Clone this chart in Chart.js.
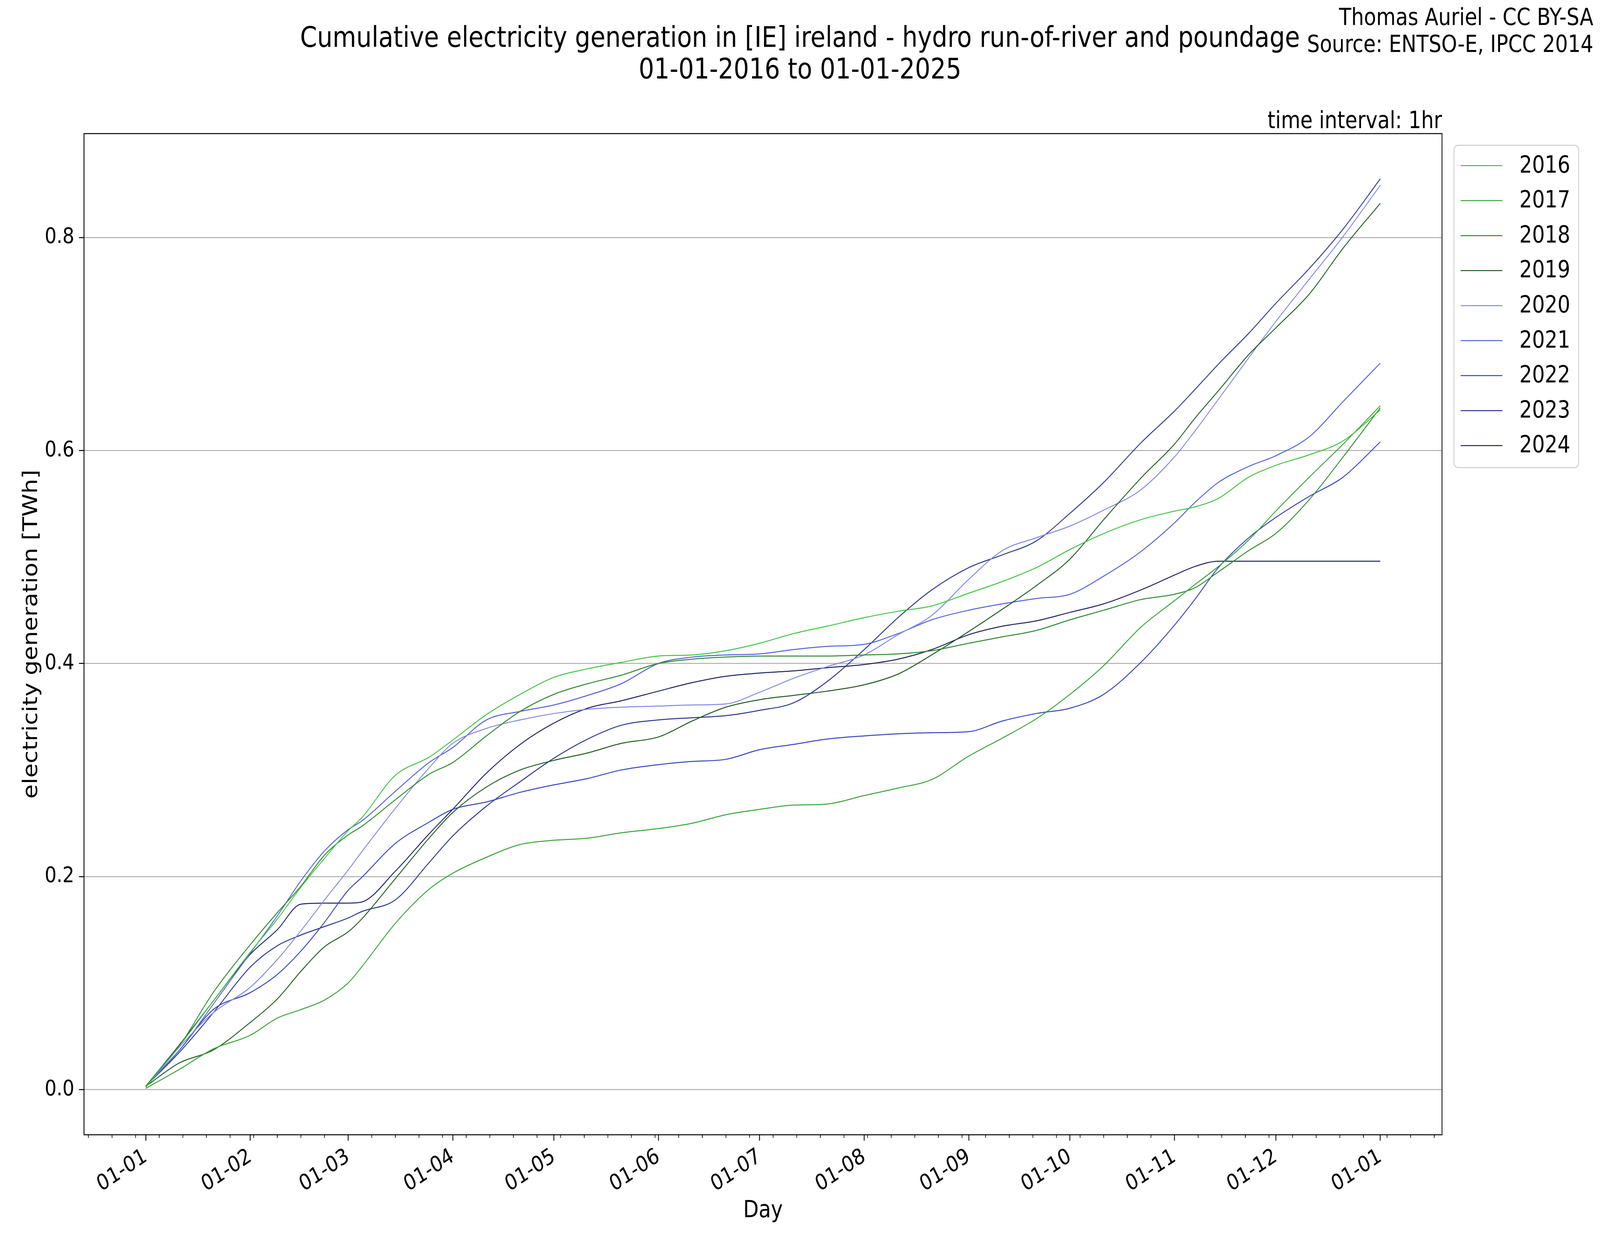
<!DOCTYPE html>
<html lang="en">
<head>
<meta charset="UTF-8">
<title>Cumulative electricity generation in [IE] ireland - hydro run-of-river and poundage</title>
<script src="https://cdn.jsdelivr.net/npm/chart.js@4.4.1/dist/chart.umd.min.js"></script>
<style>
  html, body { margin: 0; padding: 0; background: #fff; overflow: hidden; }
  canvas { display: block; }
</style>
</head>
<body>
<!-- drawing buffer keeps the 4800x3200 layout, the box fills the window -->
<canvas id="genChart" width="4800" height="3200" style="width:100vw;height:100vh"></canvas>
<script>
// day of year (leap year layout, 0 = 01-01)
const days = [0, 10, 20, 31, 39, 46, 53, 60, 64, 74, 84, 91, 101, 111, 121, 131, 141, 152, 162, 172,
  182, 192, 202, 213, 223, 233, 244, 254, 264, 274, 284, 295, 305, 311, 318, 327, 335, 345, 355, 366];

const years = ['2016', '2017', '2018', '2019', '2020', '2021', '2022', '2023', '2024'];

// cumulative generation, TWh
const gen2016 = [0.002, 0.041, 0.083, 0.129, 0.160, 0.190, 0.217, 0.243, 0.255, 0.295, 0.312, 0.328, 0.352, 0.371, 0.387, 0.395, 0.401, 0.407, 0.408, 0.412,
  0.419, 0.428, 0.435, 0.443, 0.449, 0.454, 0.466, 0.477, 0.490, 0.507, 0.522, 0.535, 0.543, 0.547, 0.555, 0.575, 0.586, 0.596, 0.609, 0.638];
const gen2017 = [0.001, 0.019, 0.038, 0.051, 0.067, 0.075, 0.084, 0.100, 0.115, 0.156, 0.188, 0.203, 0.218, 0.230, 0.234, 0.236, 0.241, 0.245, 0.250, 0.258,
  0.263, 0.267, 0.268, 0.276, 0.283, 0.291, 0.313, 0.330, 0.348, 0.371, 0.398, 0.434, 0.459, 0.474, 0.491, 0.516, 0.543, 0.575, 0.606, 0.642];
const gen2018 = [0.003, 0.041, 0.091, 0.136, 0.166, 0.191, 0.220, 0.239, 0.247, 0.272, 0.296, 0.307, 0.332, 0.355, 0.371, 0.381, 0.389, 0.400, 0.404, 0.406,
  0.407, 0.407, 0.407, 0.408, 0.409, 0.412, 0.419, 0.425, 0.431, 0.441, 0.450, 0.460, 0.465, 0.471, 0.486, 0.506, 0.522, 0.554, 0.594, 0.640];
const gen2019 = [0.003, 0.025, 0.037, 0.063, 0.085, 0.111, 0.134, 0.148, 0.160, 0.198, 0.236, 0.260, 0.284, 0.300, 0.309, 0.316, 0.325, 0.331, 0.346, 0.359,
  0.366, 0.370, 0.374, 0.380, 0.390, 0.408, 0.430, 0.451, 0.473, 0.498, 0.535, 0.574, 0.606, 0.630, 0.656, 0.690, 0.715, 0.747, 0.790, 0.832];
const gen2020 = [0.003, 0.040, 0.072, 0.096, 0.122, 0.149, 0.178, 0.206, 0.223, 0.264, 0.302, 0.325, 0.339, 0.347, 0.353, 0.357, 0.359, 0.360, 0.361, 0.362,
  0.373, 0.386, 0.397, 0.408, 0.427, 0.445, 0.479, 0.506, 0.518, 0.529, 0.544, 0.563, 0.594, 0.618, 0.648, 0.687, 0.721, 0.761, 0.801, 0.849];
const gen2021 = [0.003, 0.037, 0.080, 0.128, 0.163, 0.196, 0.224, 0.244, 0.252, 0.280, 0.307, 0.321, 0.347, 0.355, 0.361, 0.370, 0.381, 0.400, 0.406, 0.408,
  0.409, 0.413, 0.416, 0.418, 0.428, 0.441, 0.450, 0.456, 0.461, 0.465, 0.482, 0.505, 0.532, 0.551, 0.570, 0.585, 0.595, 0.613, 0.646, 0.682];
const gen2022 = [0.003, 0.037, 0.075, 0.091, 0.108, 0.130, 0.157, 0.187, 0.199, 0.231, 0.251, 0.263, 0.270, 0.279, 0.286, 0.292, 0.300, 0.305, 0.308, 0.310,
  0.319, 0.324, 0.329, 0.332, 0.334, 0.335, 0.336, 0.346, 0.353, 0.358, 0.371, 0.401, 0.436, 0.460, 0.490, 0.518, 0.537, 0.557, 0.575, 0.608];
const gen2023 = [0.003, 0.035, 0.072, 0.115, 0.135, 0.145, 0.153, 0.161, 0.167, 0.178, 0.213, 0.238, 0.266, 0.289, 0.311, 0.329, 0.342, 0.347, 0.349, 0.351,
  0.356, 0.363, 0.383, 0.413, 0.443, 0.469, 0.490, 0.502, 0.515, 0.541, 0.570, 0.607, 0.637, 0.657, 0.681, 0.710, 0.738, 0.771, 0.808, 0.855];
const gen2024 = [0.003, 0.042, 0.083, 0.127, 0.150, 0.174, 0.175, 0.175, 0.176, 0.205, 0.240, 0.263, 0.297, 0.324, 0.344, 0.358, 0.365, 0.374, 0.382, 0.388,
  0.391, 0.393, 0.396, 0.399, 0.404, 0.413, 0.427, 0.435, 0.440, 0.448, 0.456, 0.469, 0.483, 0.491, 0.496, 0.496, 0.496, 0.496, 0.496, 0.496];

const monthDays = [0, 31, 60, 91, 121, 152, 182, 213, 244, 274, 305, 335, 366];
const monthLabels = ['01-01', '01-02', '01-03', '01-04', '01-05', '01-06', '01-07', '01-08', '01-09', '01-10', '01-11', '01-12', '01-01'];
const yTicks = [0, 0.2, 0.4, 0.6, 0.8];

const series = [gen2016, gen2017, gen2018, gen2019, gen2020, gen2021, gen2022, gen2023, gen2024];
const colors = ['#3ec43e', '#35a535', '#2b8a2b', '#1f5b20', '#8088e0', '#5060d6', '#3443bf', '#2a3589', '#1c2161'];

// weekly minor ticks on the day axis
const minorDays = [];
for (let d = -17; d <= 384; d += 7) minorDays.push(d);

const FONT = '"DejaVu Sans", sans-serif';
Chart.defaults.font.family = FONT;

const decorations = {
  id: 'decorations',
  afterDraw(chart) {
    const { ctx, chartArea: a } = chart;
    const x = chart.scales.x;
    ctx.save();

    // axes frame
    ctx.strokeStyle = '#000';
    ctx.lineWidth = 2.5;
    ctx.strokeRect(a.left, a.top, a.right - a.left, a.bottom - a.top);

    // minor ticks
    ctx.lineWidth = 2;
    minorDays.forEach(d => {
      if (monthDays.includes(d)) return;
      const px = x.getPixelForValue(d);
      ctx.beginPath();
      ctx.moveTo(px, a.bottom);
      ctx.lineTo(px, a.bottom + 8);
      ctx.stroke();
    });

    ctx.fillStyle = '#000';
    ctx.textBaseline = 'alphabetic';

    // titles
    ctx.font = '73px ' + FONT;
    ctx.textAlign = 'center';
    ctx.fillText('Cumulative electricity generation in [IE] ireland - hydro run-of-river and poundage', 2400, 120);
    ctx.fillText('01-01-2016 to 01-01-2025', 2400, 201);

    ctx.font = '60px ' + FONT;
    ctx.textAlign = 'right';
    ctx.fillText('Thomas Auriel - CC BY-SA', 4780, 64);
    ctx.fillText('Source: ENTSO-E, IPCC 2014', 4780, 133);
    ctx.fillText('time interval: 1hr', a.right, 328);

    // axis titles
    ctx.textAlign = 'center';
    ctx.textBaseline = 'middle';
    ctx.fillText('Day', (a.left + a.right) / 2, 3100);
    ctx.save();
    ctx.translate(95, (a.top + a.bottom) / 2);
    ctx.rotate(-Math.PI / 2);
    ctx.fillText('electricity generation [TWh]', 0, 0);
    ctx.restore();

    // legend
    const lx = 4362, ly = 372, lw = 374, lh = 825, row = 89.6;
    ctx.beginPath();
    ctx.roundRect(lx, ly, lw, lh, 12);
    ctx.fillStyle = 'rgba(255,255,255,0.8)';
    ctx.fill();
    ctx.strokeStyle = '#d4d4d4';
    ctx.lineWidth = 3;
    ctx.stroke();
    ctx.textAlign = 'left';
    ctx.font = '60px ' + FONT;
    chart.data.datasets.forEach((ds, i) => {
      const yy = ly + 52 + i * row;
      ctx.strokeStyle = ds.borderColor;
      ctx.lineWidth = 2.5;
      ctx.beginPath();
      ctx.moveTo(lx + 20, yy);
      ctx.lineTo(lx + 145, yy);
      ctx.stroke();
      ctx.fillStyle = '#000';
      ctx.fillText(ds.label, lx + 196, yy + 2);
    });

    ctx.restore();
  }
};

const datasets = years.map((yr, i) => ({
  label: yr,
  data: days.map((d, j) => ({ x: d, y: series[i][j] })),
  borderColor: colors[i],
  borderWidth: 2.5,
  pointRadius: 0,
  cubicInterpolationMode: 'monotone',
  fill: false
}));

new Chart(document.getElementById('genChart'), {
  type: 'line',
  data: { datasets },
  options: {
    responsive: false,
    animation: false,
    devicePixelRatio: 1,
    layout: { padding: { top: 342, right: 474, left: 0, bottom: 0 } },
    plugins: {
      legend: { display: false },
      title: { display: false },
      tooltip: { enabled: false }
    },
    scales: {
      x: {
        type: 'linear',
        min: -18.3,
        max: 384.3,
        afterBuildTicks: s => { s.ticks = monthDays.map(v => ({ value: v })); },
        afterFit: s => { s.height = 295; },
        grid: { display: true, drawOnChartArea: false, drawTicks: true, tickLength: 15, tickColor: '#000', tickWidth: 2.5 },
        border: { display: false },
        ticks: {
          autoSkip: false,
          minRotation: 30,
          maxRotation: 30,
          padding: 8,
          color: '#000',
          font: { size: 56 },
          callback: (v, i) => monthLabels[i]
        }
      },
      y: {
        min: -0.0425,
        max: 0.8975,
        afterBuildTicks: s => { s.ticks = yTicks.map(v => ({ value: v })); },
        afterFit: s => { s.width = 252; },
        grid: { color: '#b0b0b0', lineWidth: 2.5, drawTicks: true, tickLength: 15, tickColor: '#000', tickWidth: 2.5 },
        border: { display: false },
        ticks: {
          padding: 14,
          color: '#000',
          font: { size: 56 },
          callback: v => v.toFixed(1)
        }
      }
    }
  },
  plugins: [decorations]
});
</script>
</body>
</html>
